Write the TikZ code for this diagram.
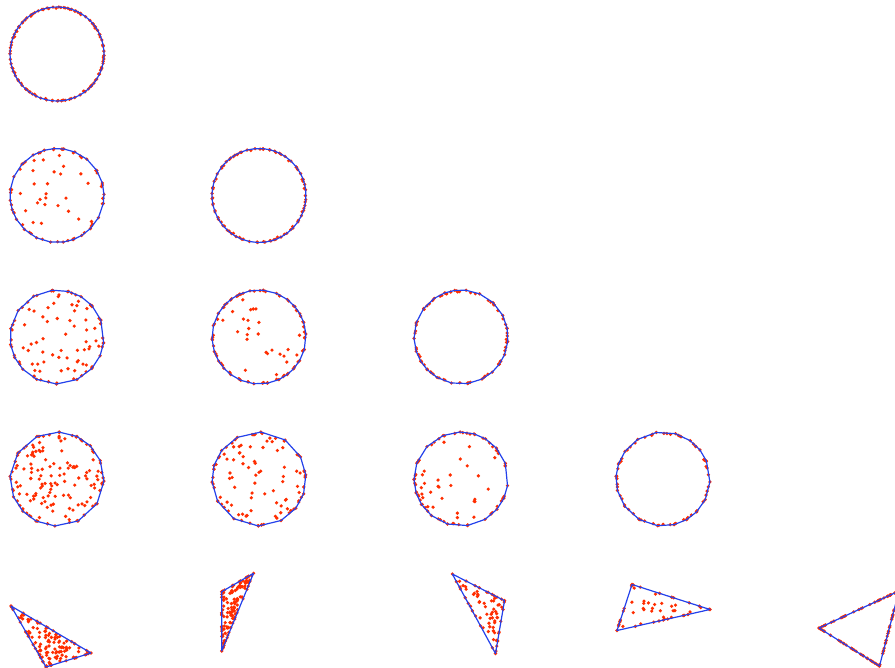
\documentclass[tikz,border=0pt]{standalone}
\definecolor{ptred}{RGB}{255,45,0}
\definecolor{hullblue}{RGB}{35,65,235}
\tikzset{
  reddot/.style={fill=ptred},
  hullline/.style={draw=hullblue, line width=1.2pt, line join=round}
}
% #1 cx, #2 cy, #3 hull vertices, #4 dots per edge, #5 interior dots, #6 phase, #7 radius
\newcommand{\hullplot}[7]{%
  \pgfmathtruncatemacro{\hpM}{#3-1}%
  \foreach \k in {0,...,\hpM}{%
    \pgfmathtruncatemacro{\kn}{mod(\k+1,#3)}%
    \pgfmathsetmacro{\aA}{#6+(\k/#3)*360+(90/#3)*sin(\k*53.7+#6*31)}%
    \pgfmathsetmacro{\aB}{#6+((\k+1)/#3)*360+(90/#3)*sin(\kn*53.7+#6*31)}%
    \fill[reddot] ({#1+#7*cos(\aA)},{#2+#7*sin(\aA)}) circle (1.8pt);%
    \pgfmathtruncatemacro{\nedots}{#4+rnd}%
    \ifnum\nedots>0
      \foreach \i in {1,...,\nedots}{%
        \pgfmathsetmacro{\tq}{rnd}%
        \pgfmathsetmacro{\fq}{0.995-0.03*rnd*rnd}%
        \fill[reddot] ({#1+\fq*#7*((1-\tq)*cos(\aA)+\tq*cos(\aB))},{#2+\fq*#7*((1-\tq)*sin(\aA)+\tq*sin(\aB))}) circle (1.8pt);%
      }%
    \fi
  }%
  \ifnum#5>0
    \foreach \i in {1,...,#5}{%
      \pgfmathsetmacro{\rr}{#7*0.92*sqrt(rnd)}%
      \pgfmathsetmacro{\ppang}{360*rnd}%
      \fill[reddot] ({#1+\rr*cos(\ppang)},{#2+\rr*sin(\ppang)}) circle (1.8pt);%
    }%
  \fi
  \draw[hullline] plot[variable=\k, samples at={0,...,\hpM}]
    ({#1+#7*cos(#6+(\k/#3)*360+(90/#3)*sin(\k*53.7+#6*31))},
     {#2+#7*sin(#6+(\k/#3)*360+(90/#3)*sin(\k*53.7+#6*31))}) -- cycle;
}
% triangle: x1 y1 x2 y2 x3 y3, dots per edge, interior dots
\newcommand{\triplot}[8]{%
  \foreach \pa/\pb/\qa/\qb in {#1/#2/#3/#4, #3/#4/#5/#6, #5/#6/#1/#2}{%
    \fill[reddot] (\pa,\pb) circle (1.8pt);%
    \foreach \i in {1,...,#7}{%
      \pgfmathsetmacro{\tq}{rnd}%
      \fill[reddot] ({(1-\tq)*\pa+\tq*\qa},{(1-\tq)*\pb+\tq*\qb}) circle (1.8pt);%
    }%
  }%
  \ifnum#8>0
    \foreach \i in {1,...,#8}{%
      \pgfmathsetmacro{\ru}{rnd}%
      \pgfmathsetmacro{\rv}{rnd}%
      \pgfmathsetmacro{\su}{(\ru+\rv>1)?(1-\ru):\ru}%
      \pgfmathsetmacro{\sv}{(\ru+\rv>1)?(1-\rv):\rv}%
      \fill[reddot] ({#1+\su*(#3-#1)+\sv*(#5-#1)},{#2+\su*(#4-#2)+\sv*(#6-#2)}) circle (1.8pt);%
    }%
  \fi
  \draw[hullline] (#1,#2) -- (#3,#4) -- (#5,#6) -- cycle;
}
\begin{document}
\begin{tikzpicture}[x=1pt,y=-1pt]
\useasboundingbox (0,0) rectangle (895,668);
\clip (0,0) rectangle (895,668);
\pgfmathsetseed{4242}
% row 1
\hullplot{57}{54}{60}{0.8}{0}{7}{47}
% row 2
\hullplot{57}{195.5}{24}{1.5}{25}{11}{47}
\hullplot{259}{195.5}{44}{1}{0}{3}{47}
% row 3
\hullplot{57}{337}{17}{2}{50}{5}{47}
\hullplot{259}{337}{26}{2}{25}{13}{47}
\hullplot{461}{337}{22}{2.5}{0}{2}{47}
% row 4
\hullplot{57}{479}{14}{3}{100}{9}{47}
\hullplot{259}{479}{14}{3}{55}{17}{47}
\hullplot{461}{479}{18}{2.5}{28}{4}{47}
\hullplot{663}{479}{18}{3}{0}{1}{47}
% row 5
\triplot{11}{606}{91}{653}{46}{667}{8}{100}
\triplot{221.7}{591.7}{253.5}{573.3}{221.7}{651}{8}{100}
\triplot{452.3}{574}{504.5}{600.7}{495.5}{653.5}{7}{50}
\triplot{632}{584.5}{710}{609.5}{617}{630.5}{8}{25}
\triplot{819}{628}{899}{591}{879.5}{666}{30}{0}
\end{tikzpicture}
\end{document}
